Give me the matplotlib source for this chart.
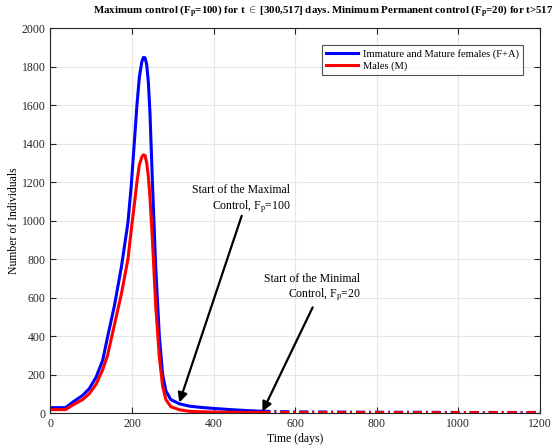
import numpy as np
import matplotlib
matplotlib.use("Agg")
import matplotlib.pyplot as plt

# ================= DATA ================= #
# phase before / during maximal control (solid lines), t in days
T_SOLID = [0, 20, 37, 55, 79, 95, 112, 128, 140, 157, 174, 190, 198, 206, 212, 218,
           224, 228, 232, 236, 240, 244, 250, 258, 267, 275, 283, 295, 316, 340,
           365, 400, 440, 480, 517]
FA_SOLID = [28, 28, 28, 57, 92, 126, 187, 274, 395, 560, 760, 990, 1180, 1417, 1600, 1746,
            1825, 1848, 1846, 1810, 1720, 1560, 1200, 760, 400, 200, 115, 70, 48, 36,
            30, 24, 18, 13, 9]
M_SOLID = [18, 18, 18, 42, 70, 100, 150, 225, 300, 460, 620, 800, 950, 1090, 1200, 1290,
           1330, 1342, 1338, 1300, 1230, 1120, 900, 560, 290, 140, 70, 33, 17, 9,
           7, 5, 4, 3, 3]

# permanent minimal control (dash-dot lines)
T_DASH = [517, 600, 700, 800, 900, 1000, 1100, 1200]
FA_DASH = [9, 6, 5, 4, 4, 3, 3, 3]
M_DASH = [3, 3, 2, 2, 2, 2, 2, 2]

X_TICKS = [0, 200, 400, 600, 800, 1000, 1200]
Y_TICKS = list(range(0, 2001, 200))

# ================= STYLE ================= #
plt.rcParams["font.family"] = ["Liberation Serif", "DejaVu Serif"]
plt.rcParams["mathtext.fontset"] = "custom"
plt.rcParams["mathtext.rm"] = "Liberation Serif"
plt.rcParams["mathtext.bf"] = "Liberation Serif:bold"
plt.rcParams["mathtext.it"] = "Liberation Serif:italic"

FS = 8.5

fig = plt.figure(figsize=(5.56, 4.47), dpi=100)
ax = fig.add_axes([0.0908, 0.076, 0.880, 0.861])

ax.plot(T_SOLID, FA_SOLID, color="#0000ff", lw=2.2, label="Immature and Mature females (F+A)")
ax.plot(T_SOLID, M_SOLID, color="#ff0000", lw=2.2, label="Males (M)")
l1, = ax.plot(T_DASH, FA_DASH, color="#0000ff", lw=2.2)
l2, = ax.plot(T_DASH, M_DASH, color="#ff0000", lw=2.2)
l1.set_dashes((3, 1.3, 0.6, 1.3))
l2.set_dashes((3, 1.3, 0.6, 1.3))

ax.set_xlim(0, 1200)
ax.set_ylim(0, 2000)
ax.set_xticks(X_TICKS)
ax.set_yticks(Y_TICKS)
ax.tick_params(direction="in", length=4, width=0.8, labelsize=FS,
               top=True, right=True, colors="#262626")
ax.grid(True, color="#e6e6e6", lw=0.8)
ax.set_axisbelow(True)
for s in ax.spines.values():
    s.set_color("#262626")
    s.set_linewidth(0.8)

ax.set_xlabel("Time (days)", fontsize=FS, labelpad=2)
ax.set_ylabel("Number of Individuals", fontsize=FS, labelpad=1)

fig.text(0.168, 0.975,
         r"Maximum control (F$_{\mathbf{p}}$=100) for t $\in$ [300,517] days. "
         r"Minimum Permanent control (F$_{\mathbf{p}}$=20) for t>517",
         fontsize=7.8, fontweight="bold", ha="left", va="center")

# ---- annotations ----
ax.annotate("Start of the Maximal\nControl, F$_{\\mathrm{p}}$=100",
            xy=(316, 55), xytext=(588, 1110), fontsize=FS,
            ha="right", va="center", multialignment="right")
ax.annotate("", xy=(316, 55), xytext=(469, 1025),
            arrowprops=dict(arrowstyle="-|>", color="black", lw=1.6,
                            mutation_scale=14, shrinkA=0, shrinkB=0))
ax.annotate("Start of the Minimal\nControl, F$_{\\mathrm{p}}$=20",
            xy=(520, 8), xytext=(760, 650), fontsize=FS,
            ha="right", va="center", multialignment="right")
ax.annotate("", xy=(520, 8), xytext=(643, 549),
            arrowprops=dict(arrowstyle="-|>", color="black", lw=1.6,
                            mutation_scale=14, shrinkA=0, shrinkB=0))

# ---- legend ----
leg = ax.legend(loc="upper right", bbox_to_anchor=(0.977, 0.97), fontsize=7.6,
                frameon=True, fancybox=False, handlelength=3.0, borderpad=0.4,
                labelspacing=0.2, handletextpad=0.5)
leg.get_frame().set_edgecolor("#262626")
leg.get_frame().set_linewidth(0.8)

fig.savefig("out.png", dpi=100)
